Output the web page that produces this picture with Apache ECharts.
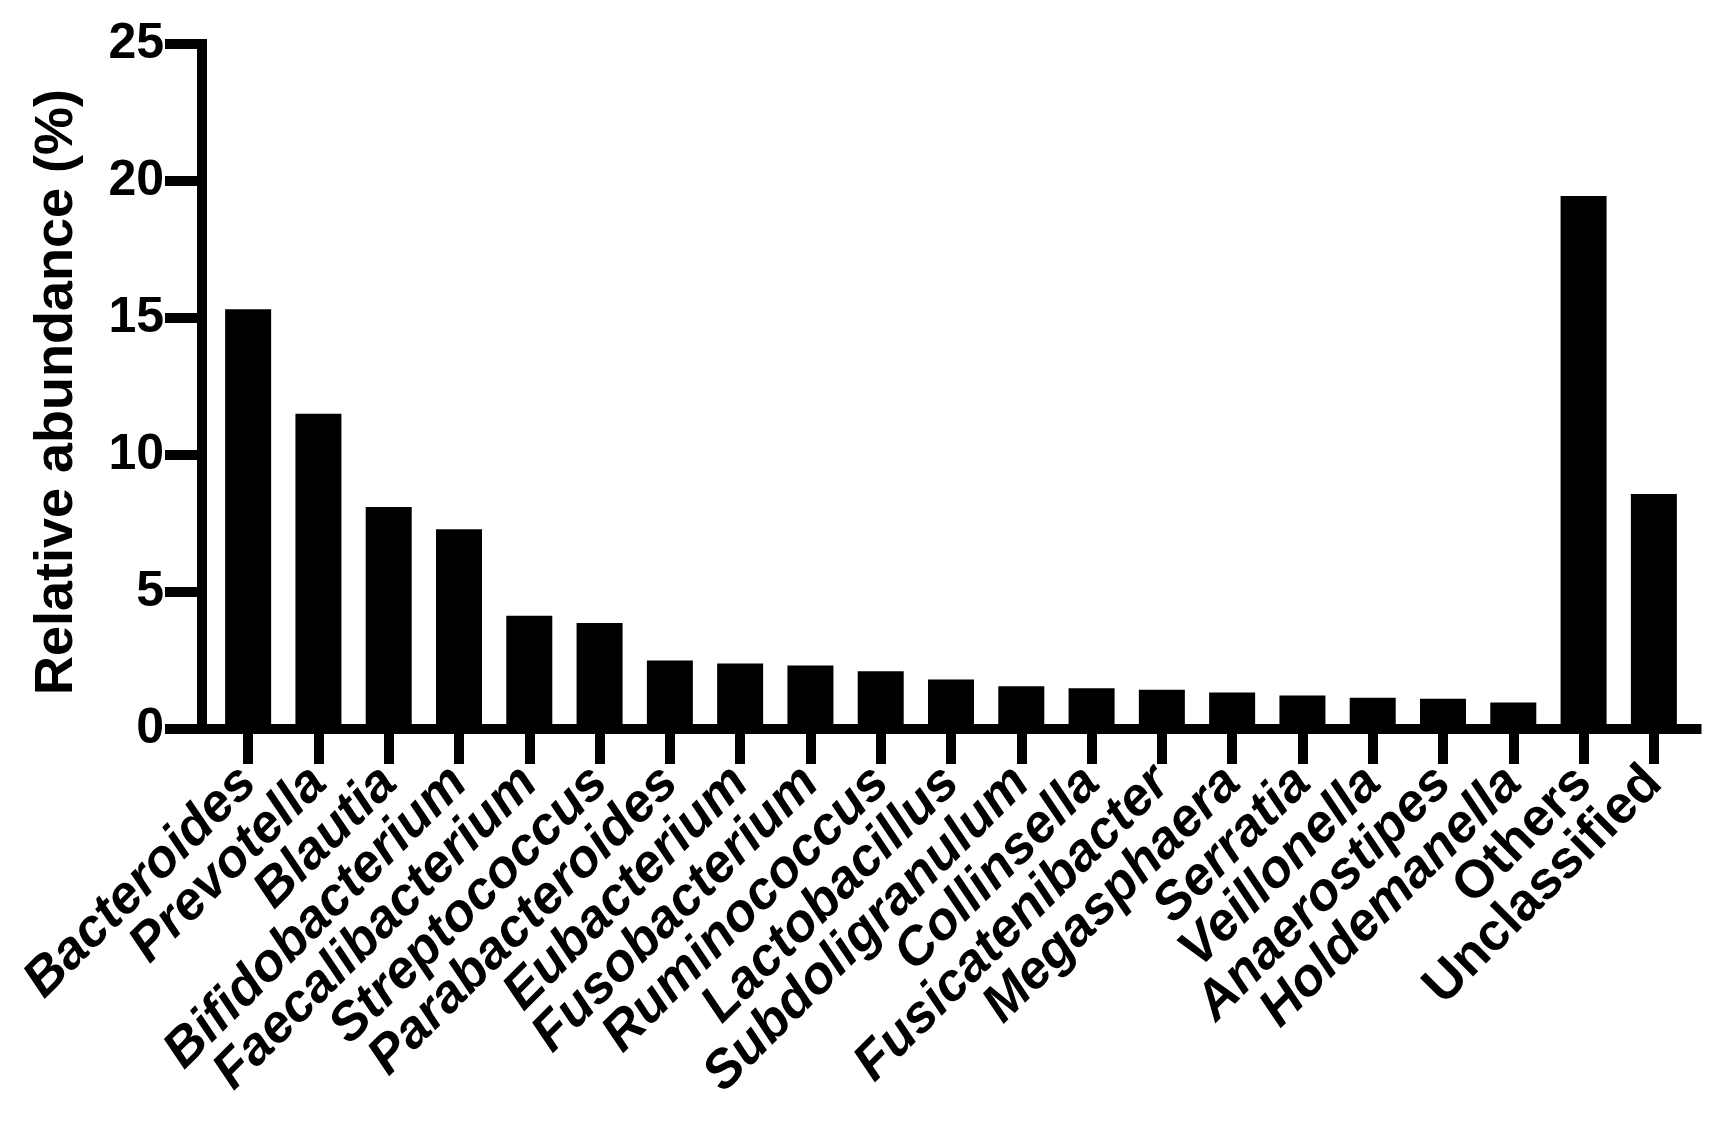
<!DOCTYPE html>
<html>
<head>
<meta charset="utf-8">
<script src="https://cdn.jsdelivr.net/npm/echarts@6/dist/echarts.min.js"></script>
<style>
  html, body { margin: 0; padding: 0; background: #fff; }
  #chart { width: 1727px; height: 1121px; }
</style>
</head>
<body>
<div id="chart"></div>
<script>
// genus names along the x axis
const categories = [
  "Bacteroides", "Prevotella", "Blautia", "Bifidobacterium", "Faecalibacterium",
  "Streptococcus", "Parabacteroides", "Eubacterium", "Fusobacterium", "Ruminococcus",
  "Lactobacillus", "Subdoligranulum", "Collinsella", "Fusicatenibacter", "Megasphaera",
  "Serratia", "Veillonella", "Anaerostipes", "Holdemanella", "Others", "Unclassified"
];
// names printed upright (not genus names)
const uprightNames = ["Others", "Unclassified"];
// relative abundance (%)
const abundance = [
  15.32, 11.51, 8.10, 7.29, 4.13, 3.87, 2.50, 2.39, 2.32, 2.11,
  1.81, 1.56, 1.49, 1.43, 1.33, 1.22, 1.14, 1.10, 0.97, 19.45, 8.58
];
const yTicks = [0, 5, 10, 15, 20, 25];

const FONT = "'Liberation Sans', Arial, Helvetica, sans-serif";
const AXIS = { color: "#000", width: 10, cap: "square" };

const chart = echarts.init(document.getElementById("chart"));
const option = {
  backgroundColor: "#fff",
  animation: false,
  grid: [
    // bars + category ticks/labels
    { left: 213, right: 38, top: 44, bottom: 392 },
    // axis frame (a little wider than the bar bands)
    { left: 202, right: 30.5, top: 44, bottom: 392 }
  ],
  xAxis: [
    {
      type: "category",
      gridIndex: 0,
      data: categories,
      axisLine: { show: false },
      axisTick: { show: true, alignWithLabel: true, length: 35, lineStyle: { color: "#000", width: 10 } },
      axisLabel: {
        interval: 0,
        rotate: 45,
        margin: 46,
        formatter: (name) =>
          uprightNames.includes(name) ? "{n|" + name + "}" : "{i|" + name + "}",
        rich: {
          i: { fontFamily: FONT, fontSize: 53, fontWeight: "bold", fontStyle: "italic", color: "#000" },
          n: { fontFamily: FONT, fontSize: 53, fontWeight: "bold", color: "#000" }
        }
      },
      splitLine: { show: false }
    },
    {
      type: "value",
      gridIndex: 1,
      min: 0,
      max: 1,
      axisLine: { show: true, onZero: false, lineStyle: AXIS },
      axisTick: { show: false },
      axisLabel: { show: false },
      splitLine: { show: false }
    }
  ],
  yAxis: [
    {
      type: "value",
      gridIndex: 0,
      min: yTicks[0],
      max: yTicks[yTicks.length - 1],
      interval: 5,
      show: false
    },
    {
      type: "value",
      gridIndex: 1,
      min: yTicks[0],
      max: yTicks[yTicks.length - 1],
      interval: 5,
      name: "Relative abundance (%)",
      nameLocation: "middle",
      nameRotate: 90,
      nameGap: 118,
      nameTextStyle: { fontFamily: FONT, fontSize: 54, fontWeight: "bold", color: "#000", padding: [0, 11, 0, 0] },
      axisLine: { show: true, onZero: false, lineStyle: AXIS },
      axisTick: { show: true, length: 37, lineStyle: { color: "#000", width: 10 } },
      axisLabel: {
        margin: 38,
        fontFamily: FONT,
        fontSize: 50,
        fontWeight: "bold",
        color: "#000"
      },
      splitLine: { show: false }
    }
  ],
  series: [
    {
      type: "bar",
      xAxisIndex: 0,
      yAxisIndex: 0,
      barWidth: 46,
      itemStyle: { color: "#000" },
      data: abundance
    }
  ]
};
chart.setOption(option);
</script>
</body>
</html>
